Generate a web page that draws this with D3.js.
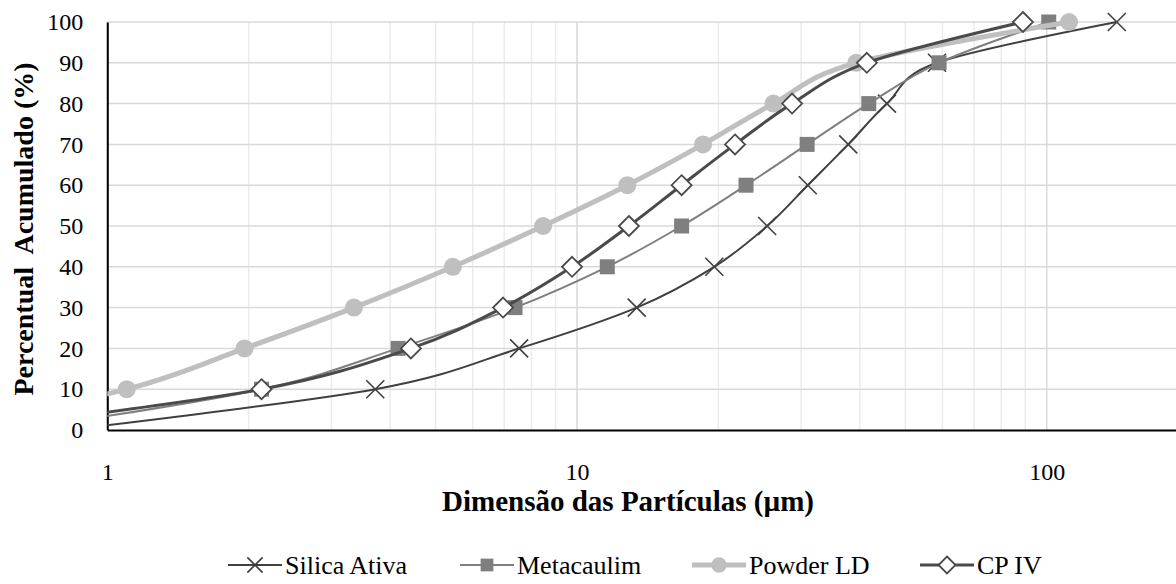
<!DOCTYPE html>
<html>
<head>
<meta charset="utf-8">
<script src="https://cdn.jsdelivr.net/npm/d3@7"></script>
<style>
  html, body { margin: 0; padding: 0; background: #fff; }
  svg { display: block; }
</style>
</head>
<body>
<svg id="chart" width="1176" height="584"></svg>
<script>
// ---- data ----
const seriesNames = ["Silica Ativa", "Metacaulim", "Powder LD", "CP IV"];
const percentValues = [0, 10, 20, 30, 40, 50, 60, 70, 80, 90, 100];
// particle sizes (µm) for each cumulative percentage; first (0 %) point lies left of the axis
const silicaSizes     = [0.82, 3.72, 7.53, 13.4, 19.6, 25.4, 31.0, 37.8, 45.7, 58.4, 141];
const metacaulimSizes = [0.64, 2.13, 4.16, 7.38, 11.6, 16.7, 22.9, 30.9, 41.8, 59.0, 101];
const powderSizes     = [0.42, 1.10, 1.96, 3.35, 5.44, 8.47, 12.8, 18.55, 26.2, 39.3, 111.6];
const cpivSizes       = [0.51, 2.13, 4.43, 6.96, 9.76, 12.9, 16.7, 21.7, 28.7, 41.4, 89.0];
const xTickLabels = [1, 10, 100];
const yTickLabels = [0, 10, 20, 30, 40, 50, 60, 70, 80, 90, 100];

(function () {
// ---- styles ----
const styles = [
  { color: "#404040", width: 2,   marker: "x" },
  { color: "#7f7f7f", width: 2,   marker: "square" },
  { color: "#bfbfbf", width: 5,   marker: "circle" },
  { color: "#4a4a4a", width: 3,   marker: "diamond" }
];
const allSizes = [silicaSizes, metacaulimSizes, powderSizes, cpivSizes];
const serif = "Liberation Serif";

const svg = d3.select("#chart");
const pLeft = 107.3, pBottom = 430, pTop = 22;
const decade = 469.7;

const x = d3.scaleLog().domain([1, 1000]).range([pLeft, pLeft + 3 * decade]);
const y = d3.scaleLinear().domain([0, 100]).range([pBottom, pTop]);

svg.append("defs").append("clipPath").attr("id", "plotclip")
  .append("rect").attr("x", pLeft).attr("y", 0).attr("width", 1176 - pLeft).attr("height", 440);

// gridlines
const gridG = svg.append("g");
const minorTicks = [];
for (let p = 0; p < 3; p++) for (let m = 1; m <= 9; m++) minorTicks.push(m * Math.pow(10, p));
gridG.selectAll("line.v").data(minorTicks.filter(v => x(v) <= 1176)).enter().append("line")
  .attr("x1", d => x(d)).attr("x2", d => x(d))
  .attr("y1", y(100)).attr("y2", y(0))
  .attr("stroke", d => (Math.abs(Math.log10(d) - Math.round(Math.log10(d))) < 1e-9) ? "#d9d9d9" : "#ececec")
  .attr("stroke-width", 1.5);
gridG.selectAll("line.h").data(yTickLabels.filter(v => v > 0)).enter().append("line")
  .attr("x1", pLeft).attr("x2", 1176)
  .attr("y1", d => y(d)).attr("y2", d => y(d))
  .attr("stroke", "#d9d9d9").attr("stroke-width", 1.5);

// axes
const yAxis = d3.axisLeft(y).tickValues(yTickLabels).tickSize(0).tickPadding(24);
const yg = svg.append("g").attr("transform", `translate(${pLeft},0)`).call(yAxis);
yg.select(".domain").attr("stroke", "#000").attr("stroke-width", 2);
yg.selectAll("text").attr("font-size", 24).attr("font-family", serif).attr("fill", "#000");

const xAxis = d3.axisBottom(x).tickValues(xTickLabels).tickFormat(d3.format("d")).tickSize(0).tickPadding(33);
const xg = svg.append("g").attr("transform", `translate(0,${pBottom})`).call(xAxis);
xg.select(".domain").attr("stroke", "#000").attr("stroke-width", 2);
xg.selectAll("text").attr("font-size", 24).attr("font-family", serif).attr("fill", "#000");

// axis titles
svg.append("text")
  .attr("transform", `translate(33,229) rotate(-90)`)
  .attr("text-anchor", "middle")
  .attr("font-family", serif)
  .attr("font-size", 28).attr("font-weight", "bold")
  .attr("xml:space", "preserve")
  .style("white-space", "pre")
  .text("Percentual  Acumulado (%)");
svg.append("text")
  .attr("x", 628).attr("y", 511)
  .attr("text-anchor", "middle")
  .attr("font-family", serif)
  .attr("font-size", 29).attr("font-weight", "bold")
  .text("Dimensão das Partículas (µm)");

// markers
function drawMarker(g, type, cx, cy, st, scale) {
  const s = scale || 1;
  if (type === "x") {
    const r = 9 * s;
    g.append("path").attr("d", `M${cx - r},${cy - r}L${cx + r},${cy + r}M${cx - r},${cy + r}L${cx + r},${cy - r}`)
      .attr("stroke", st.color).attr("stroke-width", 1.6).attr("fill", "none");
  } else if (type === "square") {
    const h = 7.5 * s;
    g.append("rect").attr("x", cx - h).attr("y", cy - h).attr("width", 2 * h).attr("height", 2 * h)
      .attr("fill", st.color);
  } else if (type === "circle") {
    g.append("circle").attr("cx", cx).attr("cy", cy).attr("r", 9 * s).attr("fill", st.color);
  } else if (type === "diamond") {
    const r = 10 * s;
    g.append("path").attr("d", `M${cx},${cy - r}L${cx + r},${cy}L${cx},${cy + r}L${cx - r},${cy}Z`)
      .attr("fill", "#fff").attr("stroke", st.color).attr("stroke-width", 1.8);
  }
}

// series
const line = d3.line().curve(d3.curveCatmullRom.alpha(0));
const plotG = svg.append("g").attr("clip-path", "url(#plotclip)");
allSizes.forEach((sizes, i) => {
  const st = styles[i];
  const pts = sizes.map((s, k) => [x(s), y(percentValues[k])]);
  const g = plotG.append("g");
  g.append("path").attr("d", line(pts)).attr("fill", "none")
    .attr("stroke", st.color).attr("stroke-width", st.width)
    .attr("stroke-linejoin", "round").attr("stroke-linecap", "round");
  pts.forEach(p => { if (p[0] >= pLeft) drawMarker(g, st.marker, p[0], p[1], st); });
});

// legend
const legendY = 565;
const legendItems = [
  { lx: 228, tx: 285 },
  { lx: 460, tx: 517 },
  { lx: 692, tx: 749 },
  { lx: 920, tx: 977 }
];
seriesNames.forEach((name, i) => {
  const st = styles[i];
  const it = legendItems[i];
  const g = svg.append("g");
  g.append("line").attr("x1", it.lx).attr("x2", it.lx + 54).attr("y1", legendY).attr("y2", legendY)
    .attr("stroke", st.color).attr("stroke-width", st.width);
  drawMarker(g, st.marker, it.lx + 27, legendY, st, 0.85);
  g.append("text").attr("x", it.tx).attr("y", legendY + 9).attr("font-size", 26)
    .attr("font-family", serif).attr("fill", "#000").text(name);
});
})();
</script>
</body>
</html>
